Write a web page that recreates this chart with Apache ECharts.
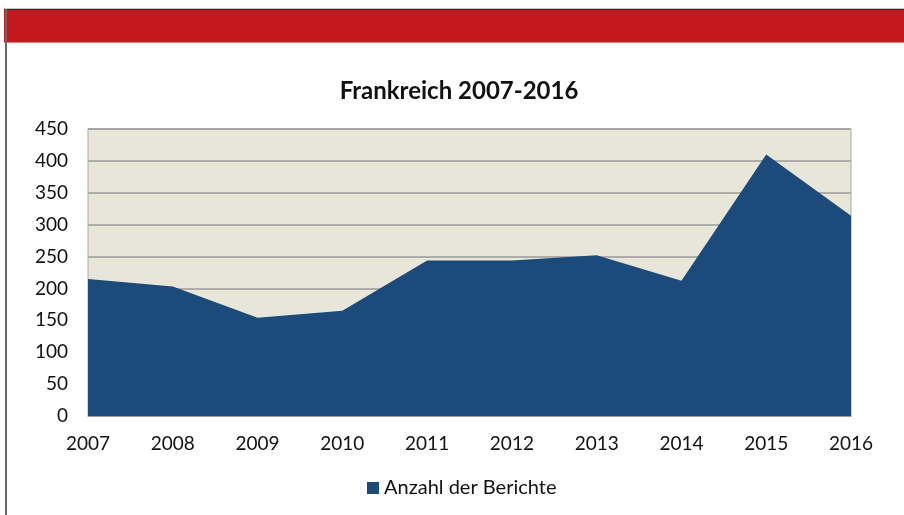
<!DOCTYPE html>
<html>
<head>
<meta charset="utf-8">
<script src="https://cdn.jsdelivr.net/npm/echarts@6/dist/echarts.min.js"></script>
<style>
  html,body{margin:0;padding:0;background:#fff;}
  #chart{width:904px;height:515px;}
</style>
</head>
<body>
<div id="chart"></div>
<script>
// Data
const years = ['2007','2008','2009','2010','2011','2012','2013','2014','2015','2016'];
const reports = [215, 203, 154, 165, 244, 244, 252, 212, 410, 314];
const seriesName = 'Anzahl der Berichte';
const titleText = 'Frankreich 2007-2016';

const FONT = 'Lato, "Open Sans", sans-serif';
const AREA = '#1c4a7b';
const GRID = '#9a9a9a';

const c = echarts.init(document.getElementById('chart'), null, {renderer:'canvas'});
c.setOption({
  backgroundColor:'#ffffff',
  animation:false,
  title:{text:titleText, left:454, textAlign:'center', top:74,
    textStyle:{fontFamily:FONT, fontSize:24, fontWeight:'bold', color:'#111'}},
  graphic:[
    // red banner across the top with its thin edges
    {type:'rect', shape:{x:4, y:8, width:900, height:1}, style:{fill:'#c8c8c8'}},
    {type:'rect', shape:{x:4, y:9, width:900, height:1}, style:{fill:'#3a2020'}},
    {type:'rect', shape:{x:4, y:10, width:900, height:32}, style:{fill:'#c4171e'}},
    {type:'rect', shape:{x:4, y:42, width:900, height:1}, style:{fill:'#e08080'}},
    // left frame line
    {type:'rect', shape:{x:5, y:9, width:2, height:506}, style:{fill:'#6a6a6a'}}
  ],
  grid:{left:88, right:53, top:129, bottom:99, show:true,
    backgroundColor:'#e8e6d8', borderColor:'#a8a8a8', borderWidth:1},
  legend:{data:[{name:seriesName, icon:'rect'}], bottom:12, left:362,
    itemWidth:12, itemHeight:12, itemGap:6,
    textStyle:{fontFamily:FONT, fontSize:20, color:'#111'}},
  xAxis:{type:'category', data:years, boundaryGap:false,
    axisLine:{lineStyle:{color:GRID}}, axisTick:{show:false},
    axisLabel:{fontFamily:FONT, fontSize:19, color:'#111', margin:18},
    splitLine:{show:false}},
  yAxis:{type:'value', min:0, max:450, interval:50,
    axisLine:{show:false}, axisTick:{show:false},
    axisLabel:{fontFamily:FONT, fontSize:19, color:'#111', margin:20},
    splitLine:{lineStyle:{color:GRID, width:1.5}}},
  series:[{name:seriesName, type:'line', data:reports, showSymbol:false,
    lineStyle:{width:0, color:AREA}, itemStyle:{color:AREA},
    areaStyle:{color:AREA, opacity:1}}]
});
</script>
</body>
</html>
